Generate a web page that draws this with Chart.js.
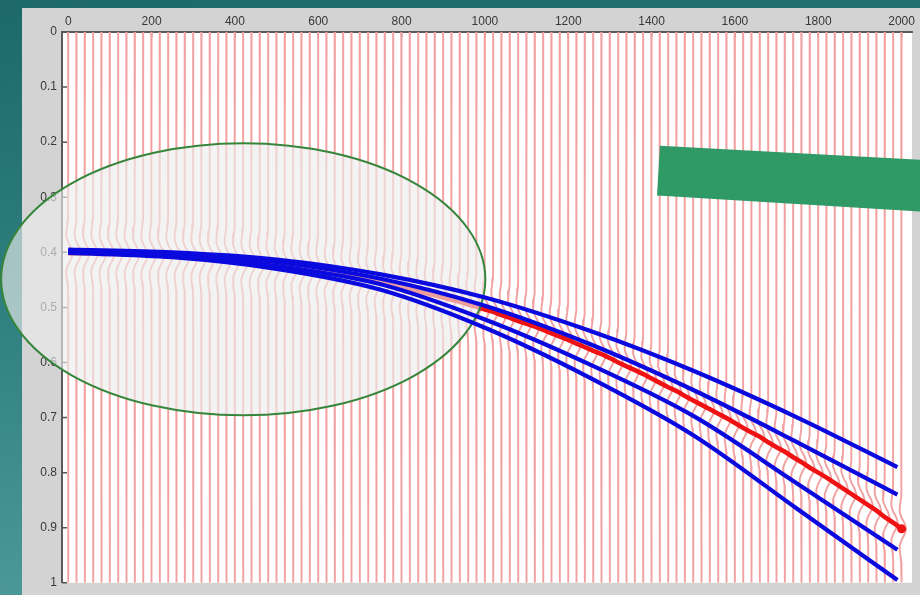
<!DOCTYPE html>
<html>
<head>
<meta charset="utf-8">
<script src="https://cdn.jsdelivr.net/npm/chart.js@4.4.1/dist/chart.umd.min.js"></script>
<style>
  html, body { margin: 0; padding: 0; background: #22706f; overflow: hidden; }
  canvas { display: block; }
</style>
</head>
<body>
<canvas id="gather" width="920" height="595"></canvas>
<script>
// ---- axes ----
const xTickValues = [0, 200, 400, 600, 800, 1000, 1200, 1400, 1600, 1800, 2000];
const xTickLabels = ['0', '200', '400', '600', '800', '1000', '1200', '1400', '1600', '1800', '2000'];
const yTickValues = [0, 0.1, 0.2, 0.3, 0.4, 0.5, 0.6, 0.7, 0.8, 0.9, 1];
const yTickLabels = ['0', '0.1', '0.2', '0.3', '0.4', '0.5', '0.6', '0.7', '0.8', '0.9', '1'];

// ---- trace offsets (m) ----
const traceOffsets = [
  0, 20, 40, 60, 80, 100, 120, 140, 160, 180,
  200, 220, 240, 260, 280, 300, 320, 340, 360, 380,
  400, 420, 440, 460, 480, 500, 520, 540, 560, 580,
  600, 620, 640, 660, 680, 700, 720, 740, 760, 780,
  800, 820, 840, 860, 880, 900, 920, 940, 960, 980,
  1000, 1020, 1040, 1060, 1080, 1100, 1120, 1140, 1160, 1180,
  1200, 1220, 1240, 1260, 1280, 1300, 1320, 1340, 1360, 1380,
  1400, 1420, 1440, 1460, 1480, 1500, 1520, 1540, 1560, 1580,
  1600, 1620, 1640, 1660, 1680, 1700, 1720, 1740, 1760, 1780,
  1800, 1820, 1840, 1860, 1880, 1900, 1920, 1940, 1960, 1980,
  2000
];

// ---- picked reflection time (s) on each trace ----
const eventTimes = [
  0.402, 0.402, 0.402, 0.402, 0.403, 0.403, 0.403, 0.404, 0.404, 0.405,
  0.405, 0.406, 0.407, 0.408, 0.409, 0.410, 0.411, 0.412, 0.413, 0.415,
  0.416, 0.418, 0.419, 0.421, 0.423, 0.424, 0.426, 0.428, 0.431, 0.433,
  0.435, 0.438, 0.440, 0.443, 0.445, 0.448, 0.451, 0.454, 0.457, 0.461,
  0.464, 0.467, 0.471, 0.475, 0.478, 0.482, 0.486, 0.490, 0.495, 0.499,
  0.504, 0.508, 0.514, 0.519, 0.525, 0.530, 0.535, 0.541, 0.547, 0.553,
  0.559, 0.566, 0.572, 0.579, 0.585, 0.592, 0.600, 0.607, 0.614, 0.621,
  0.629, 0.637, 0.645, 0.652, 0.661, 0.669, 0.677, 0.685, 0.693, 0.701,
  0.710, 0.719, 0.727, 0.735, 0.745, 0.754, 0.762, 0.772, 0.781, 0.791,
  0.800, 0.809, 0.819, 0.829, 0.839, 0.849, 0.859, 0.869, 0.881, 0.891,
  0.902
];

// ---- trial moveout curves (s) ----
const curveOffsets = [0, 250, 500, 750, 1000, 1250, 1500, 1750, 1990];
const curveA = [0.395, 0.400, 0.413, 0.440, 0.482, 0.542, 0.615, 0.700, 0.790];
const curveB = [0.397, 0.403, 0.418, 0.448, 0.497, 0.566, 0.650, 0.745, 0.840];
const curveC = [0.399, 0.406, 0.425, 0.458, 0.522, 0.603, 0.697, 0.820, 0.940];
const curveD = [0.401, 0.409, 0.430, 0.468, 0.537, 0.627, 0.732, 0.866, 0.995];

// ---- source wavelet (lag in s, normalised amplitude) ----
const waveletLags = [-0.07, -0.06, -0.05, -0.04, -0.03, -0.02, -0.01, 0, 0.01, 0.02, 0.03, 0.04, 0.05, 0.06, 0.07];
const waveletShape = [-0.025, -0.089, -0.231, -0.406, -0.406, 0, 0.662, 1, 0.662, 0, -0.406, -0.406, -0.231, -0.089, -0.025];
const WIGGLE_SCALE = 11; // trace excursion in offset units

// ---- annotations (data units) ----
const focusZone = { cx: 420, cy: 0.449, rx: 581, ry: 0.247 };
const banner = [[1420, 0.2065], [2045, 0.232], [2045, 0.326], [1413, 0.297]];

// ---- datasets ----
const datasets = [];
[curveA, curveB, curveC, curveD].forEach((vals, j) => {
  datasets.push({
    label: 'moveout ' + (j + 1),
    data: curveOffsets.map((x, i) => ({ x, y: vals[i] })),
    showLine: true,
    borderColor: '#0a0ade',
    borderWidth: 4.2,
    pointRadius: 0,
    cubicInterpolationMode: 'monotone',
    fill: false
  });
});
datasets.push({
  label: 'event',
  data: traceOffsets.map((x, i) => ({ x, y: eventTimes[i] })),
  showLine: true,
  borderColor: '#ee1212',
  borderWidth: 4.6,
  pointRadius: c => (c.dataIndex === traceOffsets.length - 1 ? 4.5 : 0),
  pointBackgroundColor: '#ee1212',
  pointBorderWidth: 0,
  fill: false
});
traceOffsets.forEach((x0, i) => {
  const te = eventTimes[i];
  const pts = [{ x: x0, y: 0 }];
  waveletLags.forEach((lag, j) => pts.push({ x: x0 + waveletShape[j] * WIGGLE_SCALE, y: te + lag }));
  pts.push({ x: x0, y: 1 });
  datasets.push({
    label: 'trace ' + x0,
    data: pts,
    showLine: true,
    borderColor: '#f2a0a0',
    borderWidth: 1.9,
    pointRadius: 0,
    tension: 0,
    fill: false
  });
});
const EVENT_INDEX = 4;

// ---- drawing helpers ----
const backdrop = {
  id: 'backdrop',
  beforeDraw(chart) {
    const { ctx, chartArea: a, width, height } = chart;
    ctx.save();
    const g = ctx.createLinearGradient(0, 0, 60, height);
    g.addColorStop(0, '#1d6969');
    g.addColorStop(0.5, '#2e7f7f');
    g.addColorStop(1, '#4c9898');
    ctx.fillStyle = g;
    ctx.fillRect(0, 0, width, height);
    ctx.fillStyle = '#d3d3d3';
    ctx.fillRect(22, 8, width - 22, height - 8);
    ctx.fillStyle = '#ffffff';
    ctx.fillRect(a.left, a.top, a.right - a.left, a.bottom - a.top);
    ctx.restore();
  },
  beforeDatasetsDraw(chart) {
    const { ctx, chartArea: a, scales: { x, y } } = chart;
    ctx.save();
    ctx.strokeStyle = '#555';
    ctx.lineWidth = 1.5;
    ctx.beginPath();
    xTickValues.forEach(v => { const p = x.getPixelForValue(v); ctx.moveTo(p, a.top); ctx.lineTo(p, a.top + 5); });
    yTickValues.forEach(v => { const p = y.getPixelForValue(v); ctx.moveTo(a.left, p); ctx.lineTo(a.left + 5, p); });
    ctx.stroke();
    ctx.restore();
  },
  afterDatasetDraw(chart, args) {
    if (args.index !== EVENT_INDEX) return;
    const { ctx, scales: { x, y } } = chart;
    const cx = x.getPixelForValue(focusZone.cx);
    const cy = y.getPixelForValue(focusZone.cy);
    const rx = Math.abs(x.getPixelForValue(focusZone.cx + focusZone.rx) - cx);
    const ry = Math.abs(y.getPixelForValue(focusZone.cy + focusZone.ry) - cy);
    ctx.save();
    ctx.beginPath();
    ctx.ellipse(cx, cy, rx, ry, 0, 0, Math.PI * 2);
    ctx.fillStyle = 'rgba(238,236,236,0.64)';
    ctx.fill();
    ctx.strokeStyle = '#35863a';
    ctx.lineWidth = 2;
    ctx.stroke();
    ctx.restore();
  },
  afterDatasetsDraw(chart) {
    const { ctx, scales: { x, y } } = chart;
    ctx.save();
    ctx.beginPath();
    banner.forEach(([bx, by], i) => {
      const px = x.getPixelForValue(bx), py = y.getPixelForValue(by);
      if (i === 0) ctx.moveTo(px, py); else ctx.lineTo(px, py);
    });
    ctx.closePath();
    ctx.fillStyle = '#2f9a66';
    ctx.fill();
    ctx.restore();
  }
};

const tickFont = { family: "'Liberation Sans', Arial, sans-serif", size: 12 };

new Chart(document.getElementById('gather'), {
  type: 'scatter',
  data: { datasets },
  plugins: [backdrop],
  options: {
    responsive: false,
    animation: false,
    events: [],
    layout: { padding: { left: 0, top: 0, right: 8, bottom: 11 } },
    plugins: { legend: { display: false }, tooltip: { enabled: false } },
    scales: {
      x: {
        type: 'linear',
        position: 'top',
        min: -15,
        max: 2025,
        afterBuildTicks: s => { s.ticks = xTickValues.map(v => ({ value: v })); },
        afterFit: s => { s.height = 32; },
        ticks: {
          callback: (v, i) => xTickLabels[i],
          font: tickFont,
          color: '#383838',
          padding: 3,
          maxRotation: 0,
          autoSkip: false
        },
        grid: { display: false, drawTicks: false },
        border: { display: true, color: '#5a5a5a', width: 2 }
      },
      y: {
        type: 'linear',
        reverse: true,
        min: 0,
        max: 1,
        afterBuildTicks: s => { s.ticks = yTickValues.map(v => ({ value: v })); },
        afterFit: s => { s.width = 62; },
        ticks: {
          callback: (v, i) => yTickLabels[i],
          font: tickFont,
          color: '#383838',
          padding: 5,
          autoSkip: false
        },
        grid: { display: false, drawTicks: false },
        border: { display: true, color: '#5a5a5a', width: 2 }
      }
    }
  }
});
</script>
</body>
</html>
